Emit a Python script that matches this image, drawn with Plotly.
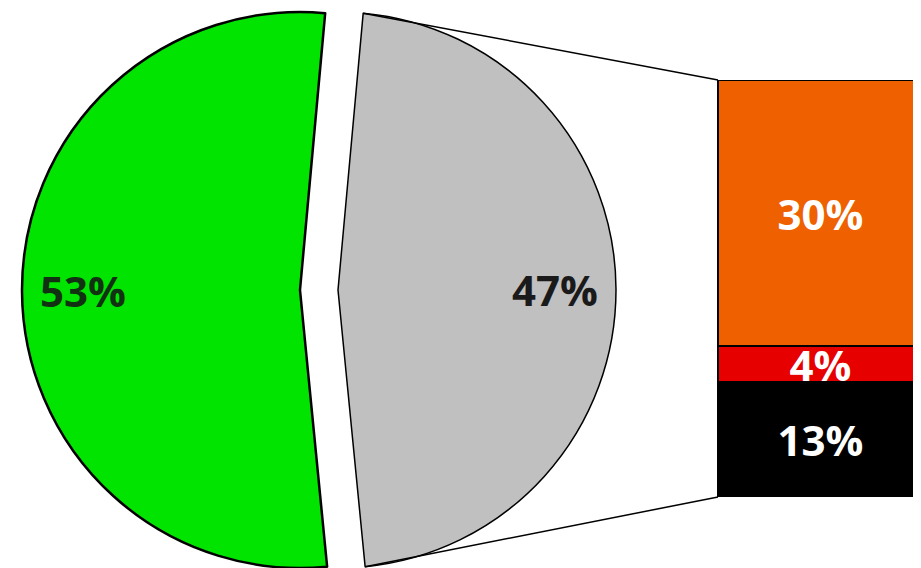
import plotly.graph_objects as go
import math

# ---- data ----
pie_labels = ["Green share", "Grey share"]
pie_values = [53, 47]
bar_labels = ["Black", "Red", "Orange"]          # stacked bottom -> top
bar_values = [13, 4, 30]

pie_colors = ["#00e400", "#c0c0c0"]
bar_colors = ["#000000", "#e60000", "#ee6000"]

# The page body has an 8px margin; the figure fills the rest of the window.
OFF = 8
W, H = 921 - OFF, 568 - OFF

def px(X):          # window pixel x -> paper x
    return (X - OFF) / W

def py(Y):          # window pixel y -> paper y
    return (H - (Y - OFF)) / H

pie_total = sum(pie_values)
bar_total = sum(bar_values)
pct = [f"{round(v / pie_total * 100)}%" for v in pie_values]
bar_pct = [f"{round(v / pie_total * 100)}%" for v in bar_values]

# pie geometry (window pixels)
R = 278
CY = 290
CX_GREEN, CX_GREY = 300, 338
TOP_ANGLE = 5.2                                   # boundary angle, clockwise from 12 o'clock
green_angle = pie_values[0] / pie_total * 360
green_start = TOP_ANGLE - green_angle + 360       # first slice spans [start, start+angle]

def pie_domain(cx):
    return dict(x=[px(cx - R), px(cx + R)], y=[max(0, py(CY + R)), py(CY - R)])

FONT = "Open Sans"
FS = 42
fig = go.Figure()

fig.add_trace(go.Pie(
    labels=pie_labels, values=pie_values, sort=False,
    direction="clockwise", rotation=green_start,
    marker=dict(colors=[pie_colors[0], "rgba(0,0,0,0)"],
                line=dict(color=["#000000", "rgba(0,0,0,0)"], width=[2.5, 0])),
    textinfo="none", domain=pie_domain(CX_GREEN), showlegend=False,
    hoverinfo="label+percent",
))
fig.add_trace(go.Pie(
    labels=pie_labels, values=pie_values, sort=False,
    direction="clockwise", rotation=green_start,
    marker=dict(colors=["rgba(0,0,0,0)", pie_colors[1]],
                line=dict(color=["rgba(0,0,0,0)", "#000000"], width=[0, 1.5])),
    textinfo="none", domain=pie_domain(CX_GREY), showlegend=False,
    hoverinfo="label+percent",
))

# stacked bar
x_dom = [px(714), 1.0]
x_rng = [0.0, 1.0]
bar_left = (px(718) - x_dom[0]) / (x_dom[1] - x_dom[0])
bar_width = 0.99
y_dom = [py(497), py(80)]
for lab, v, c, t in zip(bar_labels, bar_values, bar_colors, bar_pct):
    fig.add_trace(go.Bar(
        x=[bar_left + bar_width / 2], y=[v], width=[bar_width], name=lab,
        marker=dict(color=c, line=dict(color="#000000", width=2)),
        text=[t], textposition="inside", insidetextanchor="middle",
        textangle=0, constraintext="none",
        textfont=dict(family=FONT, size=FS, color="#ffffff", weight="bold"),
        showlegend=False,
    ))

# slice labels placed along each slice's mid angle
def pie_point(cx, angle_deg, frac):
    a = math.radians(angle_deg)
    return px(cx + frac * R * math.sin(a)), py(CY - frac * R * math.cos(a))

green_mid = green_start + green_angle / 2
grey_mid = TOP_ANGLE + (pie_values[1] / pie_total * 360) / 2
annotations = []
for (cx, mid, txt, col) in [(CX_GREEN, green_mid, pct[0], "#123012"),
                            (CX_GREY, grey_mid, pct[1], "#1a1a1a")]:
    ax_, ay_ = pie_point(cx, mid, 0.78)
    annotations.append(dict(x=ax_, y=ay_, xref="paper", yref="paper", text=txt,
                            showarrow=False, xanchor="center", yanchor="middle",
                            font=dict(family=FONT, size=FS, color=col, weight="bold")))

# connector lines from grey slice tips to bar corners
t_top = pie_point(CX_GREY, TOP_ANGLE, 1.0)
t_bot = pie_point(CX_GREY, green_start, 1.0)
bx = x_dom[0] + (bar_left - x_rng[0]) / (x_rng[1] - x_rng[0]) * (x_dom[1] - x_dom[0])
shapes = [
    dict(type="line", xref="paper", yref="paper", x0=t_top[0], y0=t_top[1],
         x1=bx, y1=y_dom[1], line=dict(color="#000000", width=1.5)),
    dict(type="line", xref="paper", yref="paper", x0=t_bot[0], y0=t_bot[1],
         x1=bx, y1=y_dom[0], line=dict(color="#000000", width=1.5)),
]

fig.update_layout(
    width=W, height=H, margin=dict(l=0, r=0, t=0, b=0),
    paper_bgcolor="#ffffff", plot_bgcolor="rgba(0,0,0,0)",
    barmode="stack", bargap=0,
    xaxis=dict(domain=x_dom, range=x_rng, visible=False, fixedrange=True),
    yaxis=dict(domain=y_dom, range=[0, bar_total], visible=False, fixedrange=True),
    shapes=shapes, annotations=annotations,
    font=dict(family=FONT),
)

fig.write_html("out.html")
